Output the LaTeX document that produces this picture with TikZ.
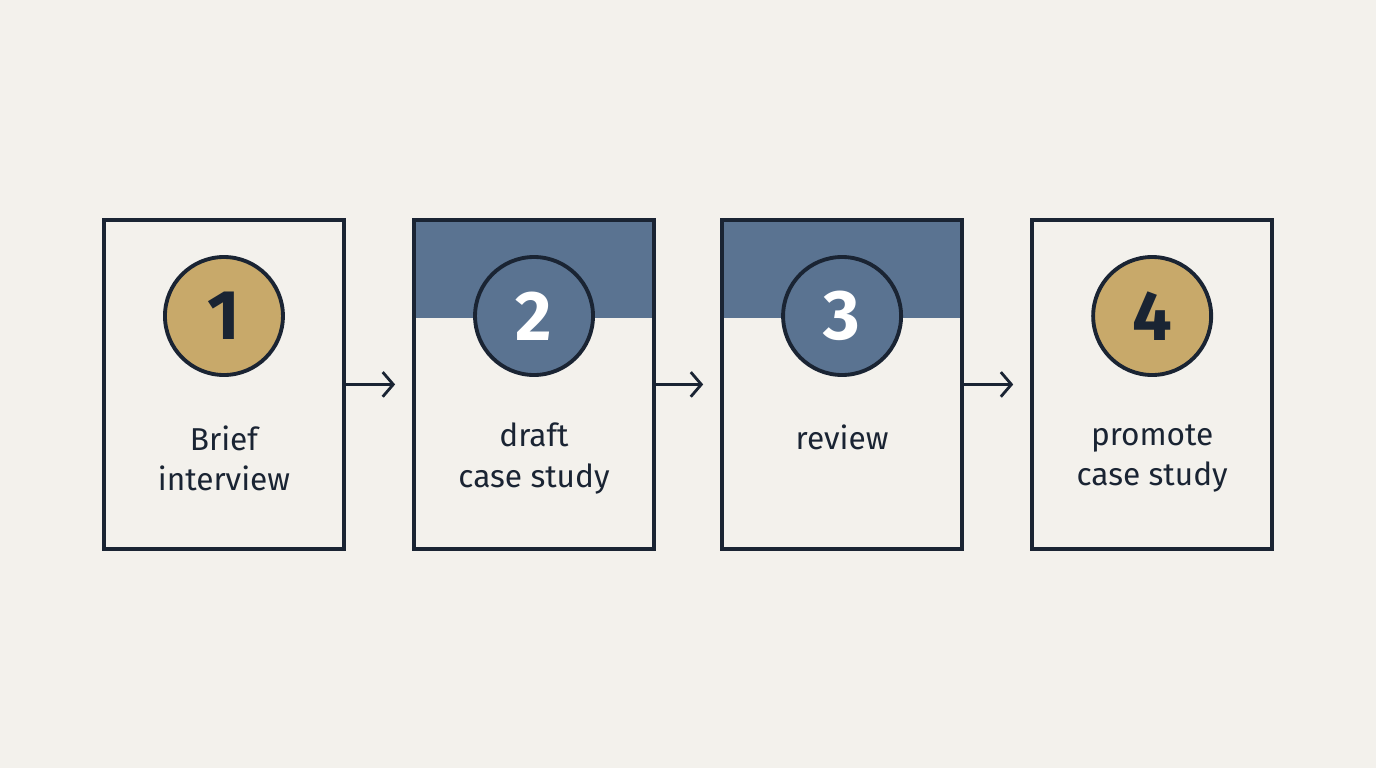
\documentclass[tikz,border=0pt]{standalone}
\usepackage{fontspec}
\setmainfont{Fira Sans}
\usetikzlibrary{arrows.meta}
\definecolor{bgc}{HTML}{F3F1EC}
\definecolor{gold}{HTML}{C8A96A}
\definecolor{slate}{HTML}{5A7391}
\definecolor{ink}{HTML}{1A2433}
\tikzset{
  stage/.style={draw=ink, line width=2.2pt, minimum width=4.8cm, minimum height=6.58cm, anchor=north west},
  num/.style={circle, draw=ink, line width=2.2pt, minimum size=2.36cm, font=\fontsize{40}{40}\selectfont\bfseries},
  lbl/.style={align=center, text=ink, font=\fontsize{18}{23}\selectfont},
  flow/.style={draw=ink, line width=1.6pt, -{Straight Barb[length=6pt,width=14pt]}}
}
\begin{document}
\begin{tikzpicture}
\fill[bgc] (0,0) rectangle (27.52,-15.36);
\useasboundingbox (0,0) rectangle (27.52,-15.36);
% boxes, left x in px
\foreach \i/\x in {1/102,2/412,3/720,4/1030}
  \node[stage] (b\i) at (\x*0.02,-4.36) {};
% header bands
\fill[slate] (b2.north west) rectangle ([yshift=-2cm]b2.north east);
\fill[slate] (b3.north west) rectangle ([yshift=-2cm]b3.north east);
\foreach \i in {1,2,3,4}
  \node[stage] at (b\i.north west) {};
% numbers
\node[num, fill=gold, text=ink] (n1) at ([yshift=-1.96cm]b1.north) {1};
\node[num, fill=slate, text=white] (n2) at ([yshift=-1.96cm]b2.north) {2};
\node[num, fill=slate, text=white] (n3) at ([yshift=-1.96cm]b3.north) {3};
\node[num, fill=gold, text=ink] (n4) at ([yshift=-1.96cm]b4.north) {4};
% labels
\node[lbl] (t1) at ([yshift=-4.81cm]b1.north) {Brief\\interview};
\node[lbl] (t2) at ([yshift=-4.81cm]b2.north) {draft\\case study};
\node[lbl] (t3) at ([yshift=-4.38cm]b3.north) {review};
\node[lbl] (t4) at ([yshift=-4.81cm]b4.north) {promote\\case study};
% arrows
\foreach \a/\b in {1/2,2/3,3/4}{
  \coordinate (e\a) at ([xshift=-0.34cm]b\b.west);
  \draw[flow] (b\a.east) -- (e\a);
}
\end{tikzpicture}
\end{document}
